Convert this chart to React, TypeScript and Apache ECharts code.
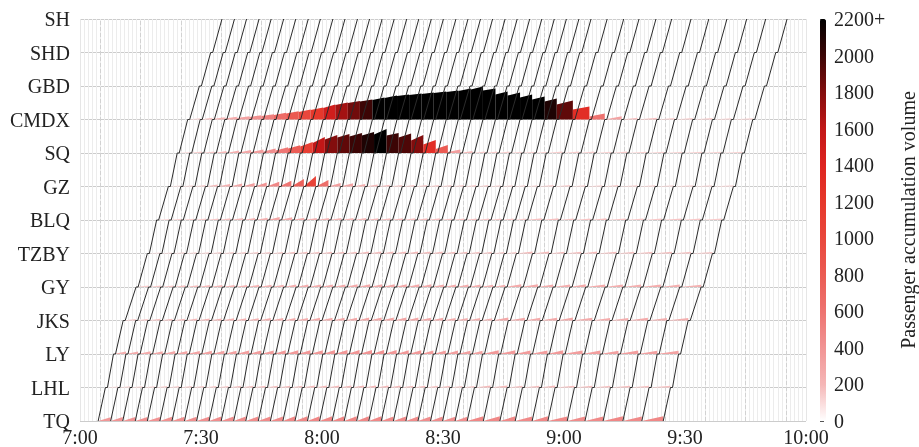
import React, { useEffect, useRef } from "react";
import * as echarts from "echarts";

// Stations from bottom (index 0) to top (index 12)
const stations = ["TQ", "LHL", "LY", "JKS", "GY", "TZBY", "BLQ", "GZ", "SQ", "CMDX", "GBD", "SHD", "SH"];
const xTickLabels = ["7:00", "7:30", "8:00", "8:30", "9:00", "9:30", "10:00"];

// Train departure times from TQ, minutes after 7:00
const departures = [
  4.5, 7.6, 10.6, 13.7, 16.7, 19.8, 22.8, 25.9, 28.9, 32.0,
  35.0, 38.1, 41.1, 44.2, 47.2, 50.3, 53.3, 56.4, 59.4, 62.5,
  65.5, 68.6, 71.6, 74.7, 77.7, 80.8, 83.8, 86.9, 89.9, 93.0,
  96.0, 100.0, 104.1, 107.9, 112.1, 116.0, 120.8, 125.2, 129.7, 134.6,
  139.3, 144.6,
];
// Running time between consecutive stations (TQ->LHL ... SHD->SH), minutes
const runTimes = [1.8, 1.5, 1.9, 2.7, 2.3, 1.8, 2.4, 1.7, 2.1, 2.4, 2.3, 2.3];
// Dwell time at intermediate stations LHL ... SHD, minutes
const dwellTimes = [0.5, 0.5, 0.5, 0.5, 0.5, 0.5, 0.5, 0.5, 0.5, 0.5, 0.5];

// Passenger accumulation when the next train arrives, per headway interval
const tqPeaks = [380, 400, 400, 410, 410, 420, 420, 430, 430, 440, 440, 450, 450, 460, 460, 470, 470, 480, 480, 480, 480, 480, 470, 460, 460, 450, 440, 440, 430, 430, 480, 470, 470, 460, 480, 460, 450, 460, 480, 460, 470];
const lhlPeaks = [110, 120, 130, 130, 140, 140, 150, 150, 160, 160, 170, 170, 170, 180, 180, 180, 190, 190, 190, 190, 200, 200, 190, 190, 180, 180, 170, 170, 160, 160, 190, 190, 180, 180, 190, 180, 180, 170, 180, 170, 170];
const lyPeaks = [250, 260, 270, 280, 290, 300, 310, 320, 320, 330, 340, 350, 360, 370, 370, 380, 380, 390, 390, 400, 400, 410, 390, 380, 370, 360, 350, 340, 330, 320, 380, 370, 360, 350, 370, 350, 340, 330, 350, 330, 320];
const jksPeaks = [150, 160, 170, 180, 180, 190, 200, 210, 220, 220, 230, 240, 250, 260, 260, 270, 270, 280, 280, 290, 290, 300, 300, 290, 280, 270, 260, 250, 240, 230, 290, 280, 270, 270, 290, 270, 260, 250, 270, 250, 240];
const gyPeaks = [140, 150, 160, 170, 180, 190, 200, 200, 210, 220, 230, 230, 240, 250, 250, 260, 260, 270, 270, 270, 280, 280, 270, 270, 260, 250, 250, 240, 230, 230, 270, 270, 260, 250, 270, 260, 250, 240, 260, 240, 230];
const tzbyPeaks = [100, 110, 120, 130, 130, 140, 140, 150, 150, 160, 160, 170, 170, 170, 180, 180, 180, 190, 190, 190, 190, 200, 190, 190, 180, 180, 170, 170, 160, 160, 190, 190, 180, 180, 190, 180, 170, 170, 180, 170, 160];
const blqPeaks = [110, 120, 130, 140, 150, 170, 190, 210, 230, 300, 270, 230, 210, 200, 200, 190, 190, 180, 180, 180, 170, 170, 170, 160, 160, 160, 150, 150, 150, 140, 170, 170, 160, 160, 170, 160, 150, 150, 160, 150, 140];
const gzPeaks = [100, 120, 140, 190, 240, 290, 340, 400, 480, 580, 740, 1050, 640, 340, 320, 240, 190, 180, 160, 160, 150, 150, 140, 140, 140, 140, 130, 130, 120, 120, 140, 140, 130, 130, 140, 130, 130, 120, 130, 120, 120];
const sqPeaks = [100, 140, 150, 190, 240, 290, 350, 440, 580, 780, 1100, 1600, 1800, 1900, 2000, 2100, 2400, 2000, 1950, 1800, 1300, 800, 340, 190, 140, 140, 140, 130, 130, 120, 140, 140, 140, 130, 140, 130, 130, 120, 130, 120, 120];
const sqStarts = [0, 0, 0, 0, 0, 50, 100, 150, 250, 450, 650, 1000, 1350, 1550, 1650, 1750, 1850, 1750, 1550, 1250, 850, 400, 100, 0, 0, 0, 0, 0, 0, 0, 0, 0, 0, 0, 0, 0, 0, 0, 0, 0, 0];
const cmdxPeaks = [120, 170, 220, 270, 320, 420, 520, 670, 820, 1000, 1200, 1500, 1700, 1850, 2000, 2200, 2400, 2500, 2600, 2700, 2800, 2900, 3100, 3300, 3100, 2800, 2700, 2500, 2300, 2100, 1900, 1300, 600, 320, 170, 170, 140, 140, 140, 130, 130];
const cmdxStarts = [0, 0, 50, 100, 150, 250, 350, 450, 600, 750, 950, 1150, 1450, 1650, 1800, 1950, 2150, 2350, 2450, 2550, 2650, 2750, 2850, 3000, 2900, 2500, 2400, 2200, 2000, 1800, 1500, 1000, 300, 0, 0, 0, 0, 0, 0, 0, 0];

// Colour scale of the legend
const colorTicks = [0, 200, 400, 600, 800, 1000, 1200, 1400, 1600, 1800, 2000, 2200];
const colorStops = ["#ffffff", "#f5b6b6", "#f19494", "#ee7370", "#eb5b53", "#e9473c", "#e6382b", "#de2420", "#c21717", "#830d0d", "#3c0505", "#000000"];

const HEIGHT_SCALE = 3350; // passengers per station spacing
const FONT = "'Liberation Serif', 'DejaVu Serif', serif";

function trainPath(dep: number): number[][] {
  const pts: number[][] = [[dep, 0]];
  let t = dep;
  for (let i = 1; i < stations.length; i++) {
    t += runTimes[i - 1];
    pts.push([t, i]);
    if (i < stations.length - 1) {
      t += dwellTimes[i - 1];
      pts.push([t, i]);
    }
  }
  return pts;
}

function arrivalAt(dep: number, s: number) {
  let t = dep;
  for (let i = 1; i <= s; i++) {
    t += runTimes[i - 1];
    if (i < s) t += dwellTimes[i - 1];
  }
  return t;
}

const accumulationSets: { s: number; peaks: number[]; starts?: number[] }[] = [
  { s: 0, peaks: tqPeaks },
  { s: 1, peaks: lhlPeaks },
  { s: 2, peaks: lyPeaks },
  { s: 3, peaks: jksPeaks },
  { s: 4, peaks: gyPeaks },
  { s: 5, peaks: tzbyPeaks },
  { s: 6, peaks: blqPeaks },
  { s: 7, peaks: gzPeaks },
  { s: 8, peaks: sqPeaks, starts: sqStarts },
  { s: 9, peaks: cmdxPeaks, starts: cmdxStarts },
];

export default function App() {
  const ref = useRef<HTMLDivElement>(null);
  useEffect(() => {
    if (!ref.current) return;
    const chart = echarts.init(ref.current, null, { renderer: "svg" });

    const polys: number[][] = [];
    accumulationSets.forEach(({ s, peaks, starts }) => {
      for (let k = 0; k < departures.length - 1 && k < peaks.length; k++) {
        const a = arrivalAt(departures[k], s);
        const b = arrivalAt(departures[k + 1], s);
        polys.push([s, a, b, starts ? starts[k] : 0, peaks[k]]);
      }
    });

    const trainSeries = departures.map((d) => ({
      type: "line",
      data: trainPath(d),
      showSymbol: false,
      symbol: "none",
      silent: true,
      lineStyle: { color: "#2b2b2b", width: 1 },
      z: 5,
    }));

    const dashedLines: { xAxis: number }[] = [];
    for (let m = 5; m < 180; m += 10) dashedLines.push({ xAxis: m });

    const vmMin = colorTicks[0];
    const vmMax = colorTicks[colorTicks.length - 1];

    const option: any = {
      animation: false,
      grid: [
        { left: 80, right: 113, top: 19, bottom: 26, containLabel: false },
        { left: 820, width: 6, top: 19, bottom: 26, containLabel: false },
      ],
      xAxis: [
        {
          type: "value",
          gridIndex: 0,
          min: 0,
          max: 180,
          interval: 30,
          axisLine: { show: false },
          axisTick: { show: false },
          axisLabel: {
            formatter: (v: number) => xTickLabels[Math.round(v / 30)] ?? "",
            fontFamily: FONT,
            fontSize: 20,
            color: "#222",
            margin: 6,
          },
          splitLine: { show: true, lineStyle: { color: "#e6e6e6", width: 1 } },
          minorTick: { show: false, splitNumber: 30 },
          minorSplitLine: { show: true, lineStyle: { color: "#ececec", width: 1 } },
        },
        { type: "value", gridIndex: 1, min: 0, max: 1, show: false },
      ],
      yAxis: [
        {
          type: "value",
          gridIndex: 0,
          min: 0,
          max: 12,
          interval: 1,
          axisLine: { show: false },
          axisTick: { show: false },
          axisLabel: {
            formatter: (v: number) => stations[Math.round(v)] ?? "",
            fontFamily: FONT,
            fontSize: 20,
            color: "#222",
            margin: 10,
          },
          splitLine: { show: true, lineStyle: { color: "#cccccc", width: 1 } },
        },
        {
          type: "value",
          gridIndex: 1,
          min: vmMin,
          max: vmMax,
          interval: 200,
          position: "right",
          axisLine: { show: false },
          axisTick: { show: true, length: 4, lineStyle: { color: "#555" } },
          splitLine: { show: false },
          axisLabel: {
            formatter: (v: number) => (v === vmMax ? `${v}+` : String(v)),
            fontFamily: FONT,
            fontSize: 20,
            color: "#222",
            margin: 12,
          },
          name: "Passenger accumulation volume",
          nameLocation: "middle",
          nameRotate: 90,
          nameGap: 76,
          nameTextStyle: { fontFamily: FONT, fontSize: 20, color: "#222" },
        },
      ],
      visualMap: [
        {
          type: "continuous",
          show: false,
          seriesIndex: 1,
          dimension: 4,
          min: vmMin,
          max: vmMax,
          inRange: { color: colorStops },
        },
        {
          type: "continuous",
          show: true,
          seriesIndex: 0,
          min: vmMin,
          max: vmMax,
          calculable: false,
          realtime: false,
          orient: "vertical",
          left: 820,
          top: 19,
          padding: 0,
          itemWidth: 6,
          itemHeight: 402,
          text: ["", ""],
          textGap: 0,
          showLabel: false,
          inRange: { color: colorStops },
          outOfRange: { color: colorStops },
        },
      ],
      series: [
        {
          type: "line",
          data: [],
          silent: true,
          z: 1,
          markLine: {
            silent: true,
            z: 1,
            symbol: "none",
            label: { show: false },
            lineStyle: { color: "#d2d2d2", type: "dashed", width: 1 },
            data: dashedLines,
          },
        },
        {
          type: "custom",
          xAxisIndex: 0,
          yAxisIndex: 0,
          silent: true,
          data: polys,
          z: 3,
          renderItem: (_p: any, api: any) => {
            const s = api.value(0);
            const t0 = api.value(1);
            const t1 = api.value(2);
            const v0 = api.value(3);
            const v1 = api.value(4);
            const pts = [
              api.coord([t0, s]),
              api.coord([t0, s + v0 / HEIGHT_SCALE]),
              api.coord([t1, s + v1 / HEIGHT_SCALE]),
              api.coord([t1, s]),
            ];
            return { type: "polygon", shape: { points: pts }, style: { fill: api.visual("color"), stroke: null } };
          },
        },
        ...trainSeries,
      ],
    };
    chart.setOption(option);
    return () => chart.dispose();
  }, []);
  return <div ref={ref} style={{ position: "fixed", left: 0, top: 0, width: 919, height: 447 }} />;
}
